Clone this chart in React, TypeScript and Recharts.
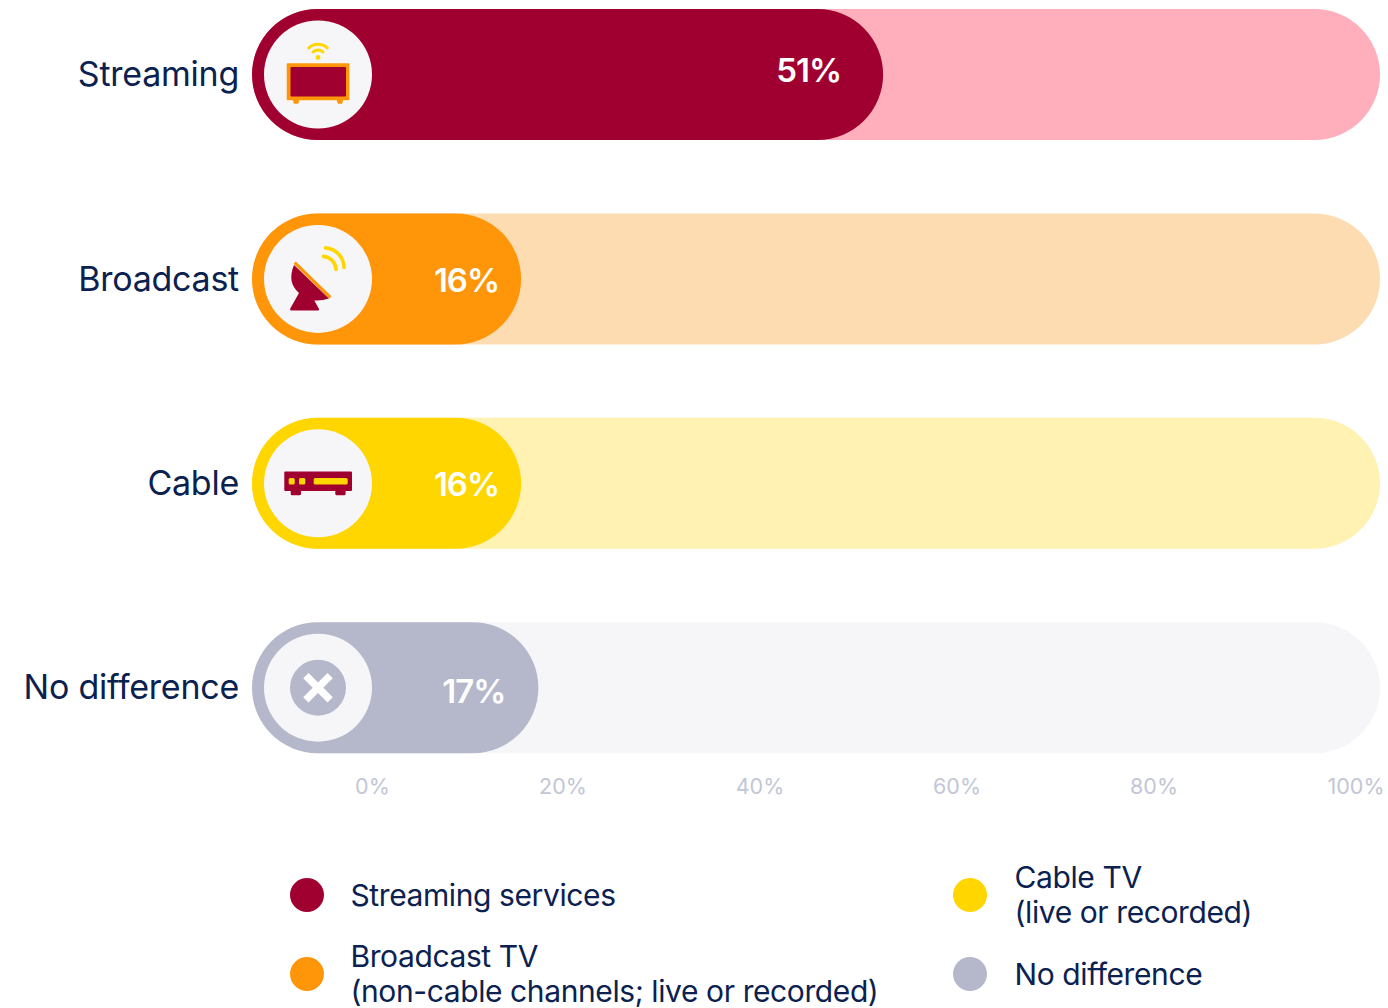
import React from 'react';
import { BarChart, Bar, XAxis, YAxis, LabelList, Rectangle } from 'recharts';

const categories = ['Streaming', 'Broadcast', 'Cable', 'No difference'];
// bar lengths as measured on the picture, the printed shares are in shareLabels
const barLengths = [51, 15.3, 15.3, 17];
const shareLabels = ['51%', '16%', '16%', '17%'];
const trackLengths = [100, 100, 100, 100];
const tickValues = [0, 20, 40, 60, 80, 100];

const legendLeft = [
  { lines: ['Streaming services'], color: '#a00030' },
  { lines: ['Broadcast TV', '(non-cable channels; live or recorded)'], color: '#ff9609' },
];
const legendRight = [
  { lines: ['Cable TV', '(live or recorded)'], color: '#ffd600' },
  { lines: ['No difference'], color: '#b5b8ca' },
];

const barColors = ['#a00030', '#ff9609', '#ffd600', '#b5b8ca'];
const trackColors = ['#ffaebb', '#fedcb2', '#fff2b2', '#f6f6f9'];
const NAVY = '#0b2150';
const FONT = 'Inter, sans-serif';

// the bars share a scale with 0 at x=366 and 100 at the right end of the track
const BAR_DOMAIN_MIN = -11.24;
const rows = categories.map((name, i) => ({
  name,
  bar: [BAR_DOMAIN_MIN, barLengths[i]],
  track: [BAR_DOMAIN_MIN, trackLengths[i]],
  label: shareLabels[i],
}));

const labelInset = [42, 22, 22, 33];
const labelDrop = [7.5, 13, 13, 15];

const TvIcon = () => (
  <g>
    <rect x={-31.3} y={-11.3} width={62.6} height={37} rx={1} fill="#ff9609" />
    <rect x={-27.5} y={-7.5} width={55.5} height={29.5} rx={1} fill="#a00030" />
    <path d="M-25 25h6.5l-1 3.6a1 1 0 0 1-1 .7h-3a1 1 0 0 1-1-.7zM18.5 25h6.5l-.5 3.6a1 1 0 0 1-1 .7h-3a1 1 0 0 1-1-.7z" fill="#ff9609" />
    <circle cx={0} cy={-17} r={2.4} fill="#ffd600" />
    <path d="M-5 -22.5a7.4 7.4 0 0 1 10 0M-9.2 -26.6a13.4 13.4 0 0 1 18.4 0" fill="none" stroke="#ffd600" strokeWidth={3} strokeLinecap="round" />
  </g>
);

const DishIcon = () => (
  <g>
    <path d="M-24 -14C-29 -2 -27 7 -19 14L-28 30Q-28 31.5 -26 31.5L0 31.5Q1.5 31.5 1 30L-3.7 21.5Q4 22 11 19.5Z" fill="#a00030" />
    <path d="M-23.3 -16.2L12.3 18.6" stroke="#ff9609" strokeWidth={3.2} fill="none" />
    <path d="M7.5 -31A20 20 0 0 1 26 -11.5M5.5 -22.5A13.5 13.5 0 0 1 18 -9.5" stroke="#ffd600" strokeWidth={3.6} fill="none" strokeLinecap="round" />
  </g>
);

const CableIcon = () => (
  <g>
    <rect x={-27.3} y={6} width={10.3} height={6} rx={1.5} fill="#a00030" />
    <rect x={17.3} y={6} width={10.3} height={6} rx={1.5} fill="#a00030" />
    <rect x={-33.7} y={-11.7} width={67.7} height={19.4} rx={1} fill="#a00030" />
    <rect x={-29.3} y={-5.3} width={6} height={6.6} rx={1.5} fill="#ffd600" />
    <rect x={-19} y={-5.3} width={6.3} height={6.6} rx={1.5} fill="#ffd600" />
    <rect x={-4.3} y={-5.3} width={34} height={6.6} rx={1.5} fill="#ffd600" />
  </g>
);

const NoneIcon = () => (
  <g>
    <circle cx={0} cy={0} r={28} fill="#b5b8ca" />
    <path d="M-9.5 -9.5L9.5 9.5M9.5 -9.5L-9.5 9.5" stroke="#fff" strokeWidth={7.5} strokeLinecap="square" />
  </g>
);

const icons = [TvIcon, DishIcon, CableIcon, NoneIcon];

const TrackShape = (props: any) => {
  const { x, y, width, height, index } = props;
  return <Rectangle x={x} y={y} width={width} height={height} radius={height / 2} fill={trackColors[index]} />;
};

const ValueShape = (props: any) => {
  const { x, y, width, height, index } = props;
  const Icon = icons[index];
  const cx = x + height / 2 + 0.5;
  const cy = y + height / 2;
  return (
    <g>
      <Rectangle x={x} y={y} width={width} height={height} radius={height / 2} fill={barColors[index]} />
      <circle cx={cx} cy={cy} r={54} fill="#f6f6f9" />
      <g transform={`translate(${cx} ${cy})`}>
        <Icon />
      </g>
    </g>
  );
};

const renderShare = (props: any) => {
  const { x, y, width, height, value, index } = props;
  return (
    <text
      x={x + width - labelInset[index]}
      y={y + height / 2 + labelDrop[index]}
      textAnchor="end"
      fill="#fff"
      fontFamily={FONT}
      fontSize={33}
      fontWeight={600}
      letterSpacing={-1}
    >
      {value}
    </text>
  );
};

const PercentTick = (props: any) => {
  const { x, y, payload, index } = props;
  // the end labels sit a little to the right of their scale position
  const nudge = index === 0 ? 6.5 : index === tickValues.length - 1 ? 5 : 0;
  return (
    <text x={x + nudge} y={y - 34} textAnchor="middle" fill="#c3c6d6" fontFamily={FONT} fontSize={21.5}>
      {payload.value}%
    </text>
  );
};

const LegendItem = ({ item, top, dotX, textX }: any) => (
  <React.Fragment>
    <div
      style={{
        position: 'absolute',
        left: dotX - 17,
        top: top - 17,
        width: 34,
        height: 34,
        borderRadius: '50%',
        background: item.color,
      }}
    />
    <div
      style={{
        position: 'absolute',
        left: textX,
        top,
        transform: 'translateY(-50%)',
        fontFamily: FONT,
        fontSize: 30,
        letterSpacing: -0.4,
        lineHeight: '35px',
        color: NAVY,
        whiteSpace: 'nowrap',
      }}
    >
      {item.lines.map((line: string) => (
        <div key={line}>{line}</div>
      ))}
    </div>
  </React.Fragment>
);

export default function App() {
  return (
    <div style={{ position: 'absolute', left: 0, top: 0, width: 1388, height: 1008, overflow: 'hidden', background: '#fff' }}>
      <div style={{ position: 'absolute', left: 0, top: -27.9 }}>
        <BarChart
          width={1388}
          height={850}
          data={rows}
          layout="vertical"
          barSize={131}
          barGap={-131}
          margin={{ top: 0, right: 8, bottom: 0, left: 0 }}
        >
          <XAxis xAxisId="bars" type="number" domain={[BAR_DOMAIN_MIN, 100]} hide allowDataOverflow />
          <XAxis
            xAxisId="ticks"
            type="number"
            domain={[-11.57, 102.94]}
            ticks={tickValues}
            interval={0}
            allowDataOverflow
            height={32.4}
            axisLine={false}
            tickLine={false}
            tick={<PercentTick />}
          />
          <YAxis
            type="category"
            dataKey="name"
            width={252}
            axisLine={false}
            tickLine={false}
            tickSize={0}
            tickMargin={13}
            interval={0}
            tick={{ fill: NAVY, fontFamily: FONT, fontSize: 34, letterSpacing: -0.25 }}
          />
          <Bar xAxisId="bars" dataKey="track" shape={<TrackShape />} isAnimationActive={false} />
          <Bar xAxisId="bars" dataKey="bar" shape={<ValueShape />} isAnimationActive={false}>
            <LabelList dataKey="label" content={renderShare} />
          </Bar>
        </BarChart>
      </div>
      <LegendItem item={legendLeft[0]} top={895} dotX={307} textX={350.5} />
      <LegendItem item={legendLeft[1]} top={974} dotX={307} textX={350.5} />
      <LegendItem item={legendRight[0]} top={895} dotX={970} textX={1014.5} />
      <LegendItem item={legendRight[1]} top={974} dotX={970} textX={1014.5} />
    </div>
  );
}
